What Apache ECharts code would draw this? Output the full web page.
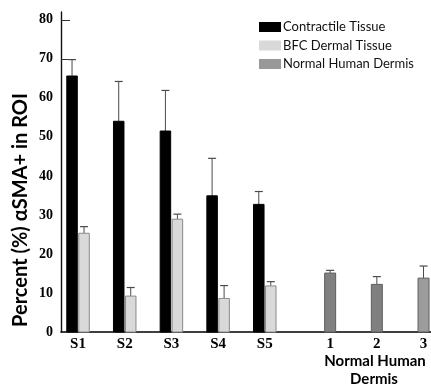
<!DOCTYPE html>
<html><head><meta charset="utf-8">
<script src="https://cdn.jsdelivr.net/npm/echarts@6/dist/echarts.min.js"></script>
<style>html,body{margin:0;padding:0;background:#fff}#c{width:431px;height:385px}</style>
</head><body><div id="c"></div>
<script>
// ---- data ----
var categories = ['S1', 'S2', 'S3', 'S4', 'S5'];
var contractile = [65.6, 54.0, 51.5, 34.9, 32.7];
var contractileErr = [4.2, 10.2, 10.4, 9.6, 3.3];
var bfc = [25.3, 9.2, 28.9, 8.6, 11.8];
var bfcErr = [1.7, 2.2, 1.3, 3.3, 1.1];
var normalLabels = ['1', '2', '3'];
var normal = [15.1, 12.2, 13.8];
var normalErr = [0.7, 2.0, 3.1];
var yTicks = [0, 10, 20, 30, 40, 50, 60, 70, 80];
var seriesNames = ['Contractile Tissue', 'BFC Dermal Tissue', 'Normal Human Dermis'];

// ---- layout (group positions on the x value axis) ----
var GAP = 1.4;
function groupPos(i) { return i; }
function normalPos(j) { return categories.length - 1 + GAP + j; }
var labelMap = {};
categories.forEach(function (c, i) { labelMap[Math.round(groupPos(i) * 10)] = c; });
normalLabels.forEach(function (c, j) { labelMap[Math.round(normalPos(j) * 10)] = c; });
var labelVals = categories.map(function (c, i) { return groupPos(i); })
  .concat(normalLabels.map(function (c, j) { return normalPos(j); }));

function barRender(offsetPx, barW) {
  return function (params, api) {
    var x = api.value(0), v = api.value(1), e = api.value(2);
    var p0 = api.coord([x, 0]);
    var p1 = api.coord([x, v]);
    var p2 = api.coord([x, v + e]);
    var cx = p0[0] + offsetPx;
    var fill = api.visual('color');
    var stroke = params.seriesIndex === 0 ? '#000' : '#8a8a8a';
    if (params.seriesIndex === 2) stroke = '#5e5e5e';
    return {
      type: 'group',
      children: [
        { type: 'line', shape: { x1: cx, y1: p1[1], x2: cx, y2: p2[1] }, style: { stroke: '#4a4a4a', lineWidth: 1 } },
        { type: 'line', shape: { x1: cx - 4, y1: p2[1], x2: cx + 4, y2: p2[1] }, style: { stroke: '#4a4a4a', lineWidth: 1.2 } },
        { type: 'rect', shape: { x: cx - barW / 2, y: p1[1], width: barW, height: p0[1] - p1[1] }, style: { fill: fill, stroke: stroke, lineWidth: 1 } }
      ]
    };
  };
}

var normalColors = ['#808080', '#808080', '#9c9c9c'];

var option = {
  animation: false,
  backgroundColor: '#fff',
  grid: { left: 61, right: 0, top: 12, bottom: 53 },
  legend: {
    orient: 'vertical', left: 259, top: 20, padding: 0,
    itemWidth: 22, itemHeight: 10, itemGap: 4.5,
    icon: 'rect',
    data: seriesNames,
    textStyle: { fontFamily: 'Lato', fontSize: 13, lineHeight: 14, color: '#111', padding: [0, 0, 0, -3] }
  },
  xAxis: {
    type: 'value', min: -0.365, max: 7.56,
    splitLine: { show: false },
    axisTick: { show: false },
    axisLine: { show: true, onZero: false, lineStyle: { color: '#000', width: 1.6 } },
    axisLabel: {
      customValues: labelVals,
      formatter: function (v) { return labelMap[Math.round(v * 10)] || ''; },
      fontFamily: 'Liberation Serif', fontWeight: 'bold', fontSize: 15, color: '#000', margin: 5
    }
  },
  yAxis: {
    type: 'value', min: 0, max: 82,
    splitLine: { show: false },
    axisLine: { show: true, onZero: false, lineStyle: { color: '#111', width: 1.4 } },
    axisTick: { show: true, inside: true, length: 9, customValues: [70, 80], lineStyle: { color: '#333', width: 1 } },
    axisLabel: {
      customValues: yTicks,
      fontFamily: 'Liberation Serif', fontWeight: 'bold', fontSize: 14, color: '#000', margin: 8
    }
  },
  graphic: [
    { type: 'text', x: 21, y: 210, rotation: Math.PI / 2,
      style: { text: 'Percent (%) αSMA+ in ROI', fontFamily: 'Lato', fontWeight: 'bold', fontSize: 20, fill: '#000', align: 'center', verticalAlign: 'middle' } },
    { type: 'text', x: 375, y: 361,
      style: { text: 'Normal Human', fontFamily: 'Lato', fontWeight: 'bold', fontSize: 15, fill: '#000', align: 'center', verticalAlign: 'middle' } },
    { type: 'text', x: 374, y: 379,
      style: { text: 'Dermis', fontFamily: 'Lato', fontWeight: 'bold', fontSize: 15, fill: '#000', align: 'center', verticalAlign: 'middle' } }
  ],
  series: [
    { type: 'custom', name: seriesNames[0], itemStyle: { color: '#000' },
      renderItem: barRender(-6, 10.5),
      data: contractile.map(function (v, i) { return [groupPos(i), v, contractileErr[i]]; }) },
    { type: 'custom', name: seriesNames[1], itemStyle: { color: '#d9d9d9', borderColor: '#aaa' },
      renderItem: barRender(6, 10.5),
      data: bfc.map(function (v, i) { return [groupPos(i), v, bfcErr[i]]; }) },
    { type: 'custom', name: seriesNames[2], itemStyle: { color: '#999' },
      renderItem: barRender(0, 11),
      data: normal.map(function (v, j) { return { value: [normalPos(j), v, normalErr[j]], itemStyle: { color: normalColors[j] } }; }) }
  ]
};
var chart = echarts.init(document.getElementById('c'), null, { renderer: 'canvas' });
chart.setOption(option);
</script>
</body></html>
